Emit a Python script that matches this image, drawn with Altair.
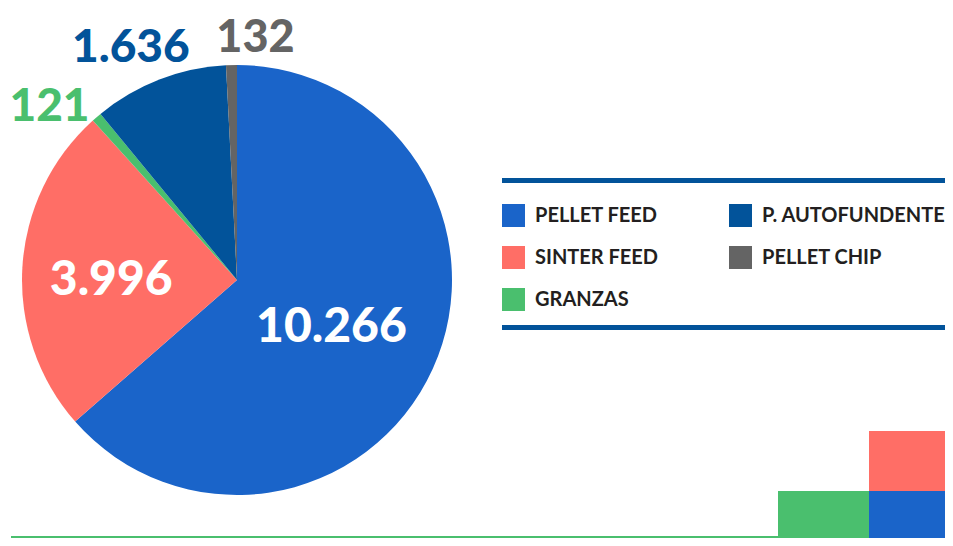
import altair as alt
import pandas as pd

# --- data ---
categorias = ["PELLET FEED", "SINTER FEED", "GRANZAS", "P. AUTOFUNDENTE", "PELLET CHIP"]
valores = [10266, 3996, 121, 1636, 132]
etiquetas = ["10.266", "3.996", "121", "1.636", "132"]
orden = [0, 1, 2, 3, 4]
colores = ["#1A64C9", "#FF6E66", "#4ABF6E", "#02539A", "#646464"]

color_de = dict(zip(categorias, colores))
df = pd.DataFrame({"categoria": categorias, "valor": valores,
                   "etiqueta": etiquetas, "orden": orden})

W, H = 937, 530
CX, CY, R = 229, 272, 215
NUM_FONT = "Lato"

base = alt.Chart(df)

theta = alt.Theta("valor:Q", stack=True)
order = alt.Order("orden:Q")

pie = base.mark_arc(radius=R).encode(
    theta=theta,
    order=order,
    x=alt.value(CX),
    y=alt.value(CY),
    color=alt.Color(
        "categoria:N",
        scale=alt.Scale(domain=categorias, range=colores),
        sort=categorias,
        legend=alt.Legend(
            orient="none", legendX=494, legendY=196, columns=2, title=None,
            symbolType="square", symbolSize=529, symbolStrokeWidth=0, symbolOpacity=1,
            labelFont="Lato", labelFontSize=20, labelFontWeight="bold",
            labelColor="#231f20", labelOffset=10, rowPadding=19, columnPadding=70,
            padding=0, labelLimit=300,
        ),
    ),
)


def label(cat, radius, dx, dy, color, size=48):
    return base.mark_text(
        radius=radius, dx=dx, dy=dy, color=color, font=NUM_FONT,
        fontSize=size, fontWeight=900, align="center", baseline="middle",
    ).encode(
        theta=theta,
        order=order,
        detail="categoria:N",
        x=alt.value(CX),
        y=alt.value(CY),
        text="etiqueta:N",
        opacity=alt.condition(alt.datum.categoria == cat, alt.value(1), alt.value(0)),
    )


labels = [
    label("PELLET FEED", 107, -3, 4, "white"),
    label("SINTER FEED", 126, 0, 8, "white"),
    label("GRANZAS", 255, -21, 20, color_de["GRANZAS"], 46),
    label("P. AUTOFUNDENTE", 255, -14, 6, color_de["P. AUTOFUNDENTE"], 46),
    label("PELLET CHIP", 255, 25, 13, color_de["PELLET CHIP"], 45),
]

one = alt.Chart(pd.DataFrame({"a": [0]}))


def hline(x1, x2, y, color, width):
    return one.mark_rule(color=color, strokeWidth=width).encode(
        x=alt.value(x1), x2=alt.value(x2), y=alt.value(y))


def box(x1, x2, y1, y2, color):
    return one.mark_rect(color=color).encode(
        x=alt.value(x1), x2=alt.value(x2), y=alt.value(y1), y2=alt.value(y2))


decor = [
    hline(494, W, 172.5, "#02539A", 5),
    hline(494, W, 319.5, "#02539A", 5),
    hline(3, 770, H - 1, "#4ABF6E", 2),
    box(861, W, 423, 483, "#FF6E66"),
    box(770, 861, 483, H, "#4ABF6E"),
    box(861, W, 483, H, "#1A64C9"),
]

chart = alt.layer(pie, *labels, *decor).properties(
    width=W, height=H, padding=0, autosize="none"
).configure_view(stroke=None)

chart.save("out.html", embed_options={"renderer": "svg", "actions": False})
